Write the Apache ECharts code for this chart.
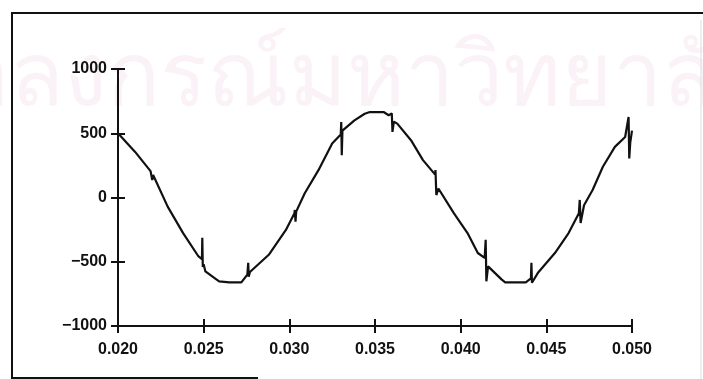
<!DOCTYPE html>
<html>
<head>
<meta charset="utf-8">
<script src="https://cdn.jsdelivr.net/npm/echarts@6/dist/echarts.min.js"></script>
<style>
  html, body { margin: 0; padding: 0; background: #fff; }
  #chart { width: 703px; height: 379px; }
</style>
</head>
<body>
<div id="chart"></div>
<script>
// waveform, [time (s), value]
// the notches are drawn as short vertical jumps at nearly the same time
const wave = [
  [0.0200, 500], [0.0210, 355], [0.0219, 205], [0.0220, 135], [0.02205, 175],
  [0.0229, -71], [0.0238, -277], [0.0247, -459],
  [0.02490, -480], [0.02492, -314], [0.02495, -540], [0.02500, -520],
  [0.0251, -575], [0.0259, -652], [0.0265, -660], [0.0272, -660],
  [0.02755, -600], [0.02760, -508], [0.02763, -616], [0.0277, -580],
  [0.0288, -446], [0.0298, -252],
  [0.0303, -122], [0.03032, -97], [0.03036, -188], [0.0304, -110],
  [0.0309, 33], [0.0317, 213], [0.0325, 420],
  [0.0330, 490], [0.03303, 587], [0.03306, 329], [0.0331, 520],
  [0.0338, 600], [0.0344, 652], [0.0347, 665], [0.0355, 665],
  [0.0358, 640], [0.03598, 655], [0.03602, 510], [0.0361, 590],
  [0.0363, 575], [0.0371, 446], [0.0378, 291],
  [0.0385, 180], [0.03853, 213], [0.03858, 19], [0.0387, 70],
  [0.0396, -122], [0.0404, -277], [0.0410, -432],
  [0.0414, -470], [0.04146, -329], [0.04150, -652], [0.0416, -536],
  [0.0424, -639], [0.0426, -660], [0.0438, -660],
  [0.0441, -630], [0.04413, -508], [0.04416, -663], [0.0445, -588],
  [0.0455, -432], [0.0463, -277],
  [0.0469, -122], [0.04695, -19], [0.04700, -198], [0.0472, -60],
  [0.0477, 58], [0.0483, 239], [0.0490, 394], [0.0496, 471],
  [0.04980, 626], [0.04984, 304], [0.0499, 430], [0.0500, 520]
];

const xTicks = { min: 0.020, max: 0.050, step: 0.005 };
const yTicks = { min: -1000, max: 1000, step: 500 };
const watermark = 'จุฬาลงกรณ์มหาวิทยาลัย';

const chart = echarts.init(document.getElementById('chart'));

const labelFont = {
  color: '#111',
  fontFamily: 'Liberation Sans',
  fontWeight: 'bold',
  fontSize: 16
};

// two copies of each axis so the ticks cross the line like on the plot
const makeX = (inside, showLabel) => ({
  type: 'value',
  min: xTicks.min,
  max: xTicks.max,
  interval: xTicks.step,
  position: 'bottom',
  splitLine: { show: false },
  axisLine: { show: true, onZero: false, lineStyle: { color: '#111', width: 2 } },
  axisTick: { show: true, inside: inside, length: 7, lineStyle: { color: '#111', width: 2 } },
  axisLabel: Object.assign({
    show: showLabel,
    margin: 16,
    formatter: (v) => v.toFixed(3)
  }, labelFont)
});
const makeY = (inside, showLabel) => ({
  type: 'value',
  min: yTicks.min,
  max: yTicks.max,
  interval: yTicks.step,
  position: 'left',
  splitLine: { show: false },
  axisLine: { show: true, onZero: false, lineStyle: { color: '#111', width: 2 } },
  axisTick: { show: true, inside: inside, length: 7, lineStyle: { color: '#111', width: 2 } },
  axisLabel: Object.assign({
    show: showLabel,
    margin: 11,
    formatter: (v) => (v < 0 ? '\u2212' + Math.abs(v) : String(v))
  }, labelFont)
});

const option = {
  animation: false,
  backgroundColor: '#fff',
  grid: { left: 118, right: 71, top: 69, bottom: 53 },
  xAxis: [makeX(false, true), makeX(true, false)],
  yAxis: [makeY(false, true), makeY(true, false)],
  graphic: [
    {
      type: 'text',
      left: -151,
      top: 36,
      z: -10,
      silent: true,
      style: {
        text: watermark,
        fill: 'rgba(205, 130, 180, 0.1)',
        font: '88px "Noto Sans", "DejaVu Sans", sans-serif'
      }
    },
    // scanned frame round the plot
    {
      type: 'polyline',
      silent: true,
      shape: { points: [[703, 13], [12, 13], [12, 378], [258, 378]] },
      style: { stroke: '#111', lineWidth: 2, fill: null }
    },
    {
      type: 'line',
      silent: true,
      shape: { x1: 701, y1: 20, x2: 701, y2: 379 },
      style: { stroke: '#ddd', lineWidth: 1 }
    }
  ],
  series: [
    {
      type: 'line',
      data: wave,
      showSymbol: false,
      smooth: false,
      lineStyle: { color: '#111', width: 2.2 },
      clip: false
    }
  ]
};

chart.setOption(option);
</script>
</body>
</html>
